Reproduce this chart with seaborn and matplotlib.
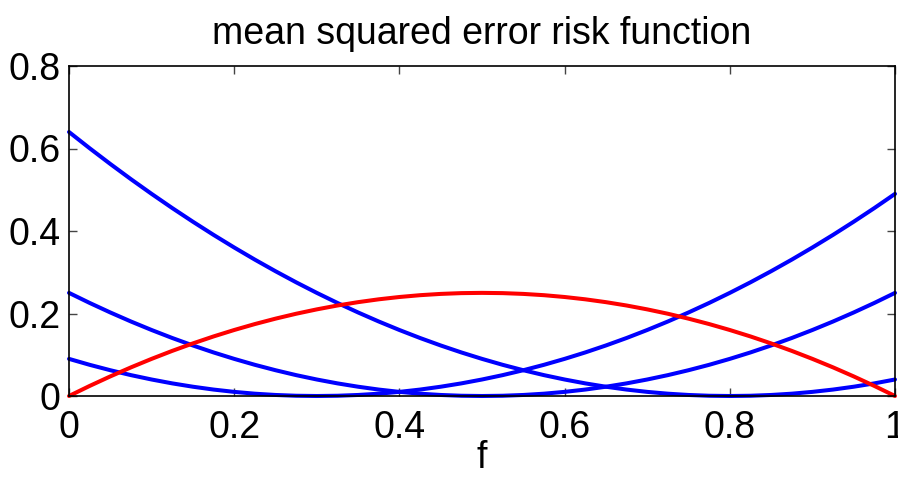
import matplotlib
matplotlib.use("Agg")
import matplotlib.pyplot as plt
import seaborn as sns
import pandas as pd

# Sample points along f
f = [0.000, 0.025, 0.050, 0.075, 0.100, 0.125, 0.150, 0.175, 0.200, 0.225,
     0.250, 0.275, 0.300, 0.325, 0.350, 0.375, 0.400, 0.425, 0.450, 0.475,
     0.500, 0.525, 0.550, 0.575, 0.600, 0.625, 0.650, 0.675, 0.700, 0.725,
     0.750, 0.775, 0.800, 0.825, 0.850, 0.875, 0.900, 0.925, 0.950, 0.975, 1.000]

# Risk of constant guesses 0.8, 0.5 and 0.3
risk_c08 = [0.64, 0.6006, 0.5625, 0.5256, 0.49, 0.4556, 0.4225, 0.3906, 0.36, 0.3306,
            0.3025, 0.2756, 0.25, 0.2256, 0.2025, 0.1806, 0.16, 0.1406, 0.1225, 0.1056,
            0.09, 0.0756, 0.0625, 0.0506, 0.04, 0.0306, 0.0225, 0.0156, 0.01, 0.0056,
            0.0025, 0.0006, 0.0, 0.0006, 0.0025, 0.0056, 0.01, 0.0156, 0.0225, 0.0306, 0.04]
risk_c05 = [0.25, 0.2256, 0.2025, 0.1806, 0.16, 0.1406, 0.1225, 0.1056, 0.09, 0.0756,
            0.0625, 0.0506, 0.04, 0.0306, 0.0225, 0.0156, 0.01, 0.0056, 0.0025, 0.0006,
            0.0, 0.0006, 0.0025, 0.0056, 0.01, 0.0156, 0.0225, 0.0306, 0.04, 0.0506,
            0.0625, 0.0756, 0.09, 0.1056, 0.1225, 0.1406, 0.16, 0.1806, 0.2025, 0.2256, 0.25]
risk_c03 = [0.09, 0.0756, 0.0625, 0.0506, 0.04, 0.0306, 0.0225, 0.0156, 0.01, 0.0056,
            0.0025, 0.0006, 0.0, 0.0006, 0.0025, 0.0056, 0.01, 0.0156, 0.0225, 0.0306,
            0.04, 0.0506, 0.0625, 0.0756, 0.09, 0.1056, 0.1225, 0.1406, 0.16, 0.1806,
            0.2025, 0.2256, 0.25, 0.2756, 0.3025, 0.3306, 0.36, 0.3906, 0.4225, 0.4556, 0.49]
# Risk of the single-observation estimator
risk_mle = [0.0, 0.0244, 0.0475, 0.0694, 0.09, 0.1094, 0.1275, 0.1444, 0.16, 0.1744,
            0.1875, 0.1994, 0.21, 0.2194, 0.2275, 0.2344, 0.24, 0.2444, 0.2475, 0.2494,
            0.25, 0.2494, 0.2475, 0.2444, 0.24, 0.2344, 0.2275, 0.2194, 0.21, 0.1994,
            0.1875, 0.1744, 0.16, 0.1444, 0.1275, 0.1094, 0.09, 0.0694, 0.0475, 0.0244, 0.0]

x_ticks = [0, 0.2, 0.4, 0.6, 0.8, 1]
x_tick_labels = ["0", "0.2", "0.4", "0.6", "0.8", "1"]
y_ticks = [0, 0.2, 0.4, 0.6, 0.8]
y_tick_labels = ["0", "0.2", "0.4", "0.6", "0.8"]

rows = []
for name, vals in [("c08", risk_c08), ("c05", risk_c05), ("c03", risk_c03), ("mle", risk_mle)]:
    for fv, rv in zip(f, vals):
        rows.append({"f": fv, "risk": rv, "estimator": name})
df = pd.DataFrame(rows)

sns.set_style("white")
plt.rcParams["font.family"] = ["Liberation Sans", "DejaVu Sans"]
plt.rcParams["text.color"] = "black"
plt.rcParams["xtick.color"] = "black"
plt.rcParams["ytick.color"] = "black"

fig = plt.figure(figsize=(8.98, 4.78), dpi=100)
ax = fig.add_axes([69 / 898, 1 - 396 / 478, (895 - 69) / 898, (396 - 66) / 478])

palette = {"c08": (0, 0, 1), "c05": (0, 0, 1), "c03": (0, 0, 1), "mle": (1, 0, 0)}
sns.lineplot(data=df, x="f", y="risk", hue="estimator", palette=palette,
             hue_order=["c08", "c05", "c03", "mle"], linewidth=2.9,
             legend=False, ax=ax, clip_on=False)

ax.set_xlim(0, 1)
ax.set_ylim(0, 0.8)
ax.set_xticks(x_ticks)
ax.set_xticklabels(x_tick_labels)
ax.set_yticks(y_ticks)
ax.set_yticklabels(y_tick_labels)
ax.tick_params(axis="both", direction="in", length=6, width=1,
               labelsize=27, labelcolor="black", top=True, right=True, bottom=True, left=True)
ax.tick_params(axis="both", color="#444444")
ax.tick_params(axis="y", pad=6)
ax.tick_params(axis="x", pad=10)
for sp in ax.spines.values():
    sp.set_visible(True)
    sp.set_color("black")
    sp.set_linewidth(1.2)

ax.set_xlabel("f", fontsize=27, labelpad=-4, color="black")
ax.set_ylabel("")
ax.set_title("mean squared error risk function", fontsize=27, pad=16, color="black")

fig.savefig("out.png", dpi=100)
